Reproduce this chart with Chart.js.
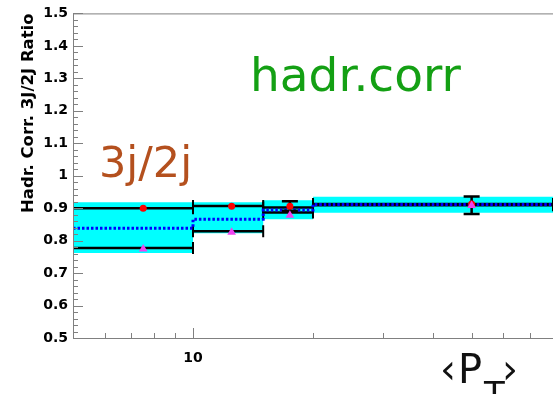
<!DOCTYPE html>
<html lang="en">
<head>
  <meta charset="UTF-8" />
  <title>Hadr. Corr. 3J/2J Ratio</title>
  <script src="https://cdn.jsdelivr.net/npm/chart.js@4"></script>
  <style>
    body { margin: 0; background: #fff; overflow: hidden; }
    #wrap { width: 553px; height: 394px; }
  </style>
</head>
<body>
  <div id="wrap"><canvas id="chartRatio" width="553" height="394"></canvas></div>

  <script>
    // <pT> bins
    const binEdges = [5, 10, 15, 20, 80];
    const binCenters = [7.5, 12.5, 17.5, 50];

    // cyan band
    const bandHigh = [0.918, 0.918, 0.924, 0.935];
    const bandLow = [0.762, 0.823, 0.866, 0.886];
    // blue dotted
    const meanRatio = [0.838, 0.866, 0.894, 0.911];
    // black bin lines
    const upperRatio = [0.900, 0.907, 0.902, 0.913];
    const lowerRatio = [0.777, 0.829, 0.887, 0.909];
    // markers
    const redPoints = [0.900, 0.906, 0.906, 0.913];
    const magentaPoints = [0.774, 0.826, 0.878, 0.908];
    // error bars
    const errX = [17.5, 50];
    const errHigh = [0.921, 0.936];
    const errLow = [0.892, 0.882];

    const yTickLabels = ['0.5', '0.6', '0.7', '0.8', '0.9', '1', '1.1', '1.2', '1.3', '1.4', '1.5'];
    const xTickValues = [6, 7, 8, 9, 10, 20, 30, 40, 50, 60, 70];
    const xTickLabels = ['10'];

    function steps(vals) {
      return binEdges.map((e, i) => ({ x: e, y: vals[Math.min(i, vals.length - 1)] }));
    }
    function segments(vals) {
      const pts = [];
      vals.forEach((v, i) => {
        pts.push({ x: binEdges[i], y: v }, { x: binEdges[i + 1], y: v }, { x: binEdges[i + 1], y: null });
      });
      return pts;
    }
    function errorBars() {
      const pts = [];
      errX.forEach((x, i) => {
        pts.push({ x: x, y: errHigh[i] }, { x: x, y: errLow[i] }, { x: x, y: null });
      });
      return pts;
    }
    const isYLabel = v => yTickLabels.some(l => Math.abs(parseFloat(l) - v) < 1e-6);

    const rootStyle = {
      id: 'rootStyle',
      afterDraw(chart) {
        const { ctx, chartArea: a, scales: { x, y } } = chart;
        ctx.save();
        ctx.strokeStyle = '#808080';
        ctx.lineWidth = 1;
        ctx.strokeRect(a.left + 0.5, a.top + 0.5, a.right - a.left, a.bottom - a.top);
        ctx.beginPath();
        y.ticks.forEach(t => {
          const py = Math.round(y.getPixelForValue(t.value)) + 0.5;
          const len = isYLabel(t.value) ? 10 : 5;
          ctx.moveTo(a.left, py); ctx.lineTo(a.left + len, py);
        });
        x.ticks.forEach(t => {
          const px = Math.round(x.getPixelForValue(t.value)) + 0.5;
          const len = xTickLabels.includes(String(t.value)) ? 10 : 5;
          ctx.moveTo(px, a.bottom); ctx.lineTo(px, a.bottom - len);
        });
        ctx.stroke();

        ctx.textBaseline = 'alphabetic';
        ctx.textAlign = 'left';
        ctx.fillStyle = '#14a014';
        ctx.font = '47px "DejaVu Sans"';
        ctx.fillText('hadr.corr', 250, 91);
        ctx.fillStyle = '#b4501e';
        ctx.font = '43px "DejaVu Sans"';
        ctx.fillText('3j/2j', 99, 177);
        ctx.fillStyle = '#111';
        ctx.font = '40px "DejaVu Sans"';
        ctx.fillText('\u2039', 440, 383);
        ctx.fillText('P', 458, 383);
        ctx.fillText('\u203A', 502, 383);
        ctx.font = '34px "DejaVu Sans"';
        ctx.fillText('T', 484, 406);
        ctx.restore();
      }
    };

    Chart.defaults.font.family = '"DejaVu Sans"';

    new Chart(document.getElementById('chartRatio'), {
      type: 'line',
      data: {
        datasets: [
          { label: 'band high', data: steps(bandHigh), stepped: true, borderWidth: 0, pointRadius: 0,
            backgroundColor: '#00ffff', fill: '+1', order: 10 },
          { label: 'band low', data: steps(bandLow), stepped: true, borderWidth: 0, pointRadius: 0,
            fill: false, order: 11 },
          { label: 'upper', data: segments(upperRatio), borderColor: '#000', borderWidth: 2.5,
            pointStyle: 'line', rotation: 90, pointRadius: 6, pointBorderWidth: 2, pointBorderColor: '#000', order: 6 },
          { label: 'lower', data: segments(lowerRatio), borderColor: '#000', borderWidth: 2.5,
            pointStyle: 'line', rotation: 90, pointRadius: 6, pointBorderWidth: 2, pointBorderColor: '#000', order: 7 },
          { label: 'mean', data: steps(meanRatio), stepped: true, borderColor: '#0000ff', borderWidth: 3,
            borderDash: [2.5, 2], pointRadius: 0, order: 4 },
          { label: 'errors', data: errorBars(), borderColor: '#000', borderWidth: 2.5,
            pointStyle: 'line', pointRadius: 8, pointBorderWidth: 2.5, pointBorderColor: '#000', order: 3 },
          { label: '3j/2j A', data: binCenters.map((c, i) => ({ x: c, y: redPoints[i] })), showLine: false,
            pointStyle: 'circle', pointRadius: 3.5, pointBackgroundColor: '#ff0000', pointBorderWidth: 0, order: 2 },
          { label: '3j/2j B', data: binCenters.map((c, i) => ({ x: c, y: magentaPoints[i] })), showLine: false,
            pointStyle: 'triangle', pointRadius: 5, pointBackgroundColor: '#ee44ee', pointBorderWidth: 0, order: 1 }
        ]
      },
      options: {
        responsive: false,
        animation: false,
        // right edge of the frame lies past the picture, as in the original
        layout: { autoPadding: false, padding: { top: 13, right: -8, left: 0, bottom: 0 } },
        plugins: { legend: { display: false }, tooltip: { enabled: false } },
        scales: {
          x: {
            type: 'logarithmic',
            min: binEdges[0],
            max: binEdges[binEdges.length - 1],
            grid: { display: false, drawTicks: false },
            border: { display: false },
            afterBuildTicks: s => { s.ticks = xTickValues.map(v => ({ value: v })); },
            afterFit: s => { s.height = 56; },
            ticks: {
              autoSkip: false, maxRotation: 0, padding: 12, color: '#000',
              font: { size: 14, weight: 'bold' },
              callback: v => xTickLabels.includes(String(v)) ? String(v) : ''
            }
          },
          y: {
            min: 0.5,
            max: 1.5,
            grid: { display: false, drawTicks: false },
            border: { display: false },
            afterBuildTicks: s => {
              const t = [];
              for (let i = 0; i <= 50; i++) t.push({ value: +(0.5 + i * 0.02).toFixed(2) });
              s.ticks = t;
            },
            afterFit: s => { s.width = 73; },
            ticks: {
              autoSkip: false, padding: 5, color: '#000',
              font: { size: 14, weight: 'bold' },
              callback: v => {
                const l = yTickLabels.find(l => Math.abs(parseFloat(l) - v) < 1e-6);
                return l === undefined ? '' : l;
              }
            },
            title: {
              display: true, text: 'Hadr. Corr. 3J/2J Ratio', align: 'end', color: '#000',
              font: { size: 16.5, weight: 'bold' }, padding: { top: 19, bottom: 0 }
            }
          }
        }
      },
      plugins: [rootStyle]
    });
  </script>
</body>
</html>
